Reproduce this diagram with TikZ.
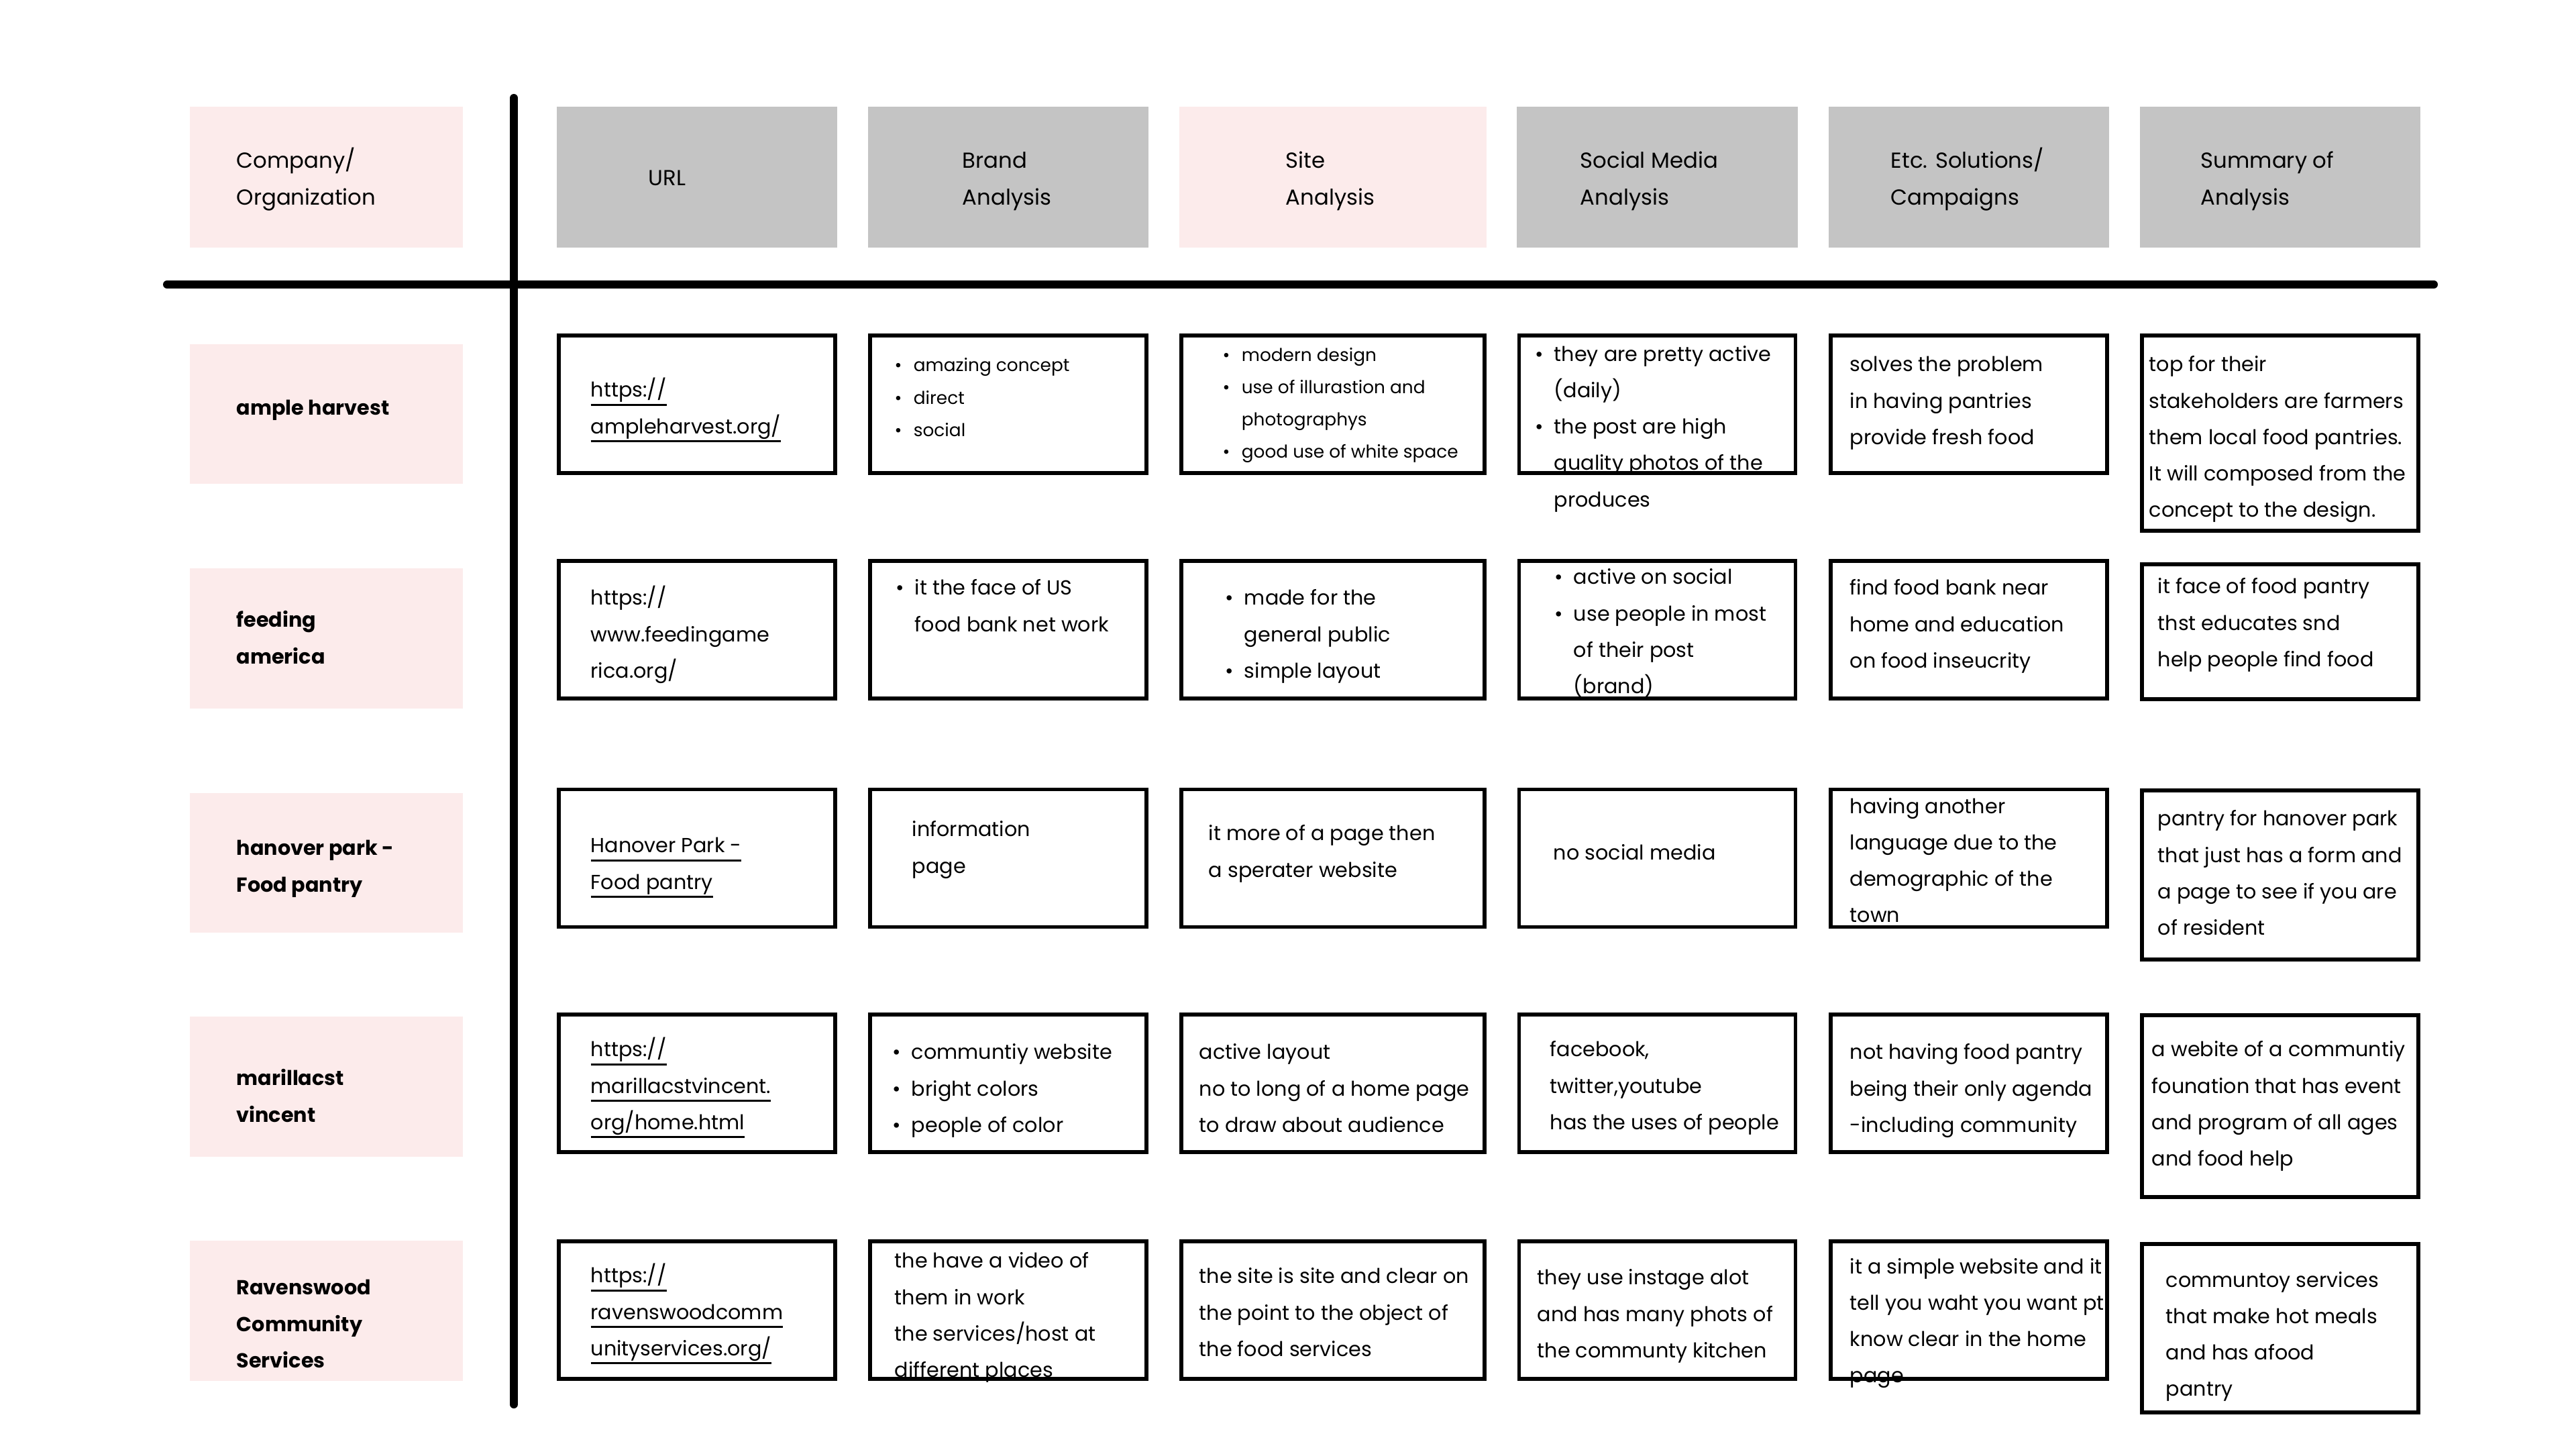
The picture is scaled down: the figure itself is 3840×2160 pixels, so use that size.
\documentclass[tikz,border=0pt]{standalone}
\usepackage{fontspec}
\setmainfont{Poppins}
\definecolor{pinkbg}{RGB}{252,235,235}
\definecolor{grayhead}{RGB}{196,196,196}
\newcommand{\lnk}[1]{\leavevmode\setbox0\hbox{#1}\rlap{\rule[-3.6pt]{\wd0}{0.7pt}}\box0}
\newcommand{\bul}{\makebox[8pt][l]{\textbullet}}
\newcommand{\ind}{\hspace*{8pt}}
\newcommand{\st}{\rule{0pt}{10pt}}
\begin{document}
\begin{tikzpicture}[x=0.01cm, y=-0.01cm]
	\tikzstyle{Head} = [rectangle, minimum width=4.18cm, minimum height=2.10cm, inner sep=0pt, fill=grayhead]
	\tikzstyle{Label} = [rectangle, minimum width=4.07cm, minimum height=2.08cm, inner sep=0pt, fill=pinkbg]
	\tikzstyle{Cell} = [rectangle, minimum width=4.12cm, minimum height=2.05cm, inner sep=0pt, draw=black, line width=1.6pt]
	\tikzstyle{Txt} = [anchor=north west, inner sep=0pt, align=left, font=\fontsize{8.6}{15.4}\selectfont]
	\tikzstyle{HeadTxt} = [Txt, font=\fontsize{9.2}{15.4}\selectfont]
	\tikzstyle{Small} = [Txt, font=\fontsize{7.5}{13.7}\selectfont]
	\tikzstyle{Bold} = [Txt, font=\fontsize{8.6}{15.4}\selectfont\bfseries]
	\tikzstyle{bar} = [line width=3.4pt, line cap=round, black]
	
	\useasboundingbox (0,0) rectangle (3840,2160);
	
	% header row
	\node (company) [Label, minimum height=2.10cm] at (486.5,264) {};
	\node (url) [Head] at (1039,264) {};
	\node (brand) [Head] at (1503,264) {};
	\node (site) [Head, minimum width=4.58cm, fill=pinkbg] at (1987,264) {};
	\node (social) [Head] at (2470.5,264) {};
	\node (etc) [Head] at (2935,264) {};
	\node (sum) [Head] at (3399,264) {};
	\node (companyt) [HeadTxt] at (352,215) {\st Company/\\Organization};
	\node (urlt) [HeadTxt] at (966,241) {\st URL};
	\node (brandt) [HeadTxt] at (1434,215) {\st Brand\\Analysis};
	\node (sitet) [HeadTxt] at (1916,215) {\st Site\\Analysis};
	\node (socialt) [HeadTxt] at (2355,215) {\st Social Media\\Analysis};
	\node (etct) [HeadTxt] at (2818,215) {\st Etc. Solutions/\\Campaigns};
	\node (sumt) [HeadTxt] at (3280,215) {\st Summary of\\Analysis};
	
	% dividing lines
	\draw [bar] (249,424) -- (3628,424);
	\draw [bar] (766,146) -- (766,2093);
	
	% company labels
	\node (l1) [Label] at (486.5,617) {};
	\node (l2) [Label] at (486.5,951.5) {};
	\node (l3) [Label] at (486.5,1286) {};
	\node (l4) [Label] at (486.5,1619.5) {};
	\node (l5) [Label] at (486.5,1953.5) {};
	\node (l1t) [Bold] at (352,583) {\st ample harvest};
	\node (l2t) [Bold] at (352,899) {\st feeding\\america};
	\node (l3t) [Bold] at (352,1239) {\st hanover park -\\Food pantry};
	\node (l4t) [Bold] at (352,1582) {\st marillacst\\vincent};
	\node (l5t) [Bold] at (352,1894) {\st Ravenswood\\Community\\Services};
	
	% row 1
	\node (url1) [Cell] at (1039,602.5) {};
	\node (brand1) [Cell] at (1503,602.5) {};
	\node (site1) [Cell, minimum width=4.52cm] at (1987,602.5) {};
	\node (social1) [Cell] at (2470.5,602.5) {};
	\node (etc1) [Cell] at (2935,602.5) {};
	\node (sum1) [Cell, minimum height=2.91cm] at (3399,645.5) {};
	\node (url1t) [Txt] at (880,556) {\st\lnk{https://}\\\lnk{ampleharvest.org/}};
	\node (brand1t) [Small] at (1333,518) {\st\bul amazing concept\\\bul direct\\\bul social};
	\node (site1t) [Small] at (1822,502.5) {\st\bul modern design\\\bul use of illurastion and\\\ind photographys\\\bul good use of white space};
	\node (social1t) [Txt] at (2288,502.5) {\st\bul they are pretty active\\\ind (daily)\\\bul the post are high\\\ind quality photos of the\\\ind produces};
	\node (etc1t) [Txt] at (2757,518) {\st solves the problem\\in having pantries\\provide fresh food};
	\node (sum1t) [Txt] at (3203,518) {\st top for their\\stakeholders are farmers\\them local food pantries.\\It will composed from the\\concept to the design.};
	
	% row 2
	\node (url2) [Cell] at (1039,938.5) {};
	\node (brand2) [Cell] at (1503,938.5) {};
	\node (site2) [Cell, minimum width=4.52cm] at (1987,938.5) {};
	\node (social2) [Cell] at (2470.5,938.5) {};
	\node (etc2) [Cell] at (2935,938.5) {};
	\node (sum2) [Cell, minimum height=2.01cm] at (3399,941.5) {};
	\node (url2t) [Txt] at (880,866) {\st https://\\www.feedingame\\rica.org/};
	\node (brand2t) [Txt] at (1335,851) {\st\bul it the face of US\\\ind food bank net work};
	\node (site2t) [Txt] at (1826,866) {\st\bul made for the\\\ind general public\\\bul simple layout};
	\node (social2t) [Txt] at (2317,835) {\st\bul active on social\\\bul use people in most\\\ind of their post\\\ind (brand)};
	\node (etc2t) [Txt] at (2757,851) {\st find food bank near\\home and education\\on food inseucrity};
	\node (sum2t) [Txt] at (3216,849) {\st it face of food pantry\\thst educates snd\\help people find food};
	
	% row 3
	\node (url3) [Cell] at (1039,1279) {};
	\node (brand3) [Cell] at (1503,1279) {};
	\node (site3) [Cell, minimum width=4.52cm] at (1987,1279) {};
	\node (social3) [Cell] at (2470.5,1279) {};
	\node (etc3) [Cell] at (2935,1279) {};
	\node (sum3) [Cell, minimum height=2.52cm] at (3399,1304) {};
	\node (url3t) [Txt] at (880,1235) {\st\lnk{Hanover Park -}\\\lnk{Food pantry}};
	\node (brand3t) [Txt] at (1359,1211) {\st information\\page};
	\node (site3t) [Txt] at (1801,1217) {\st it more of a page then\\a sperater website};
	\node (social3t) [Txt] at (2315,1246) {\st no social media};
	\node (etc3t) [Txt] at (2757,1176.5) {\st having another\\language due to the\\demographic of the\\town};
	\node (sum3t) [Txt] at (3216,1195) {\st pantry for hanover park\\that just has a form and\\a page to see if you are\\of resident};
	
	% row 4
	\node (url4) [Cell] at (1039,1614.5) {};
	\node (brand4) [Cell] at (1503,1614.5) {};
	\node (site4) [Cell, minimum width=4.52cm] at (1987,1614.5) {};
	\node (social4) [Cell] at (2470.5,1614.5) {};
	\node (etc4) [Cell] at (2935,1614.5) {};
	\node (sum4) [Cell, minimum height=2.71cm] at (3399,1648.5) {};
	\node (url4t) [Txt] at (880,1539) {\st\lnk{https://}\\\lnk{marillacstvincent.}\\\lnk{org/home.html}};
	\node (brand4t) [Txt] at (1330,1543) {\st\bul communtiy website\\\bul bright colors\\\bul people of color};
	\node (site4t) [Txt] at (1787,1543) {\st active layout\\no to long of a home page\\to draw about audience};
	\node (social4t) [Txt] at (2310,1539) {\st facebook,\\twitter,youtube\\has the uses of people};
	\node (etc4t) [Txt] at (2757,1543) {\st not having food pantry\\being their only agenda\\-including community};
	\node (sum4t) [Txt] at (3207,1539) {\st a webite of a communtiy\\founation that has event\\and program of all ages\\and food help};
	
	% row 5
	\node (url5) [Cell] at (1039,1952.5) {};
	\node (brand5) [Cell] at (1503,1952.5) {};
	\node (site5) [Cell, minimum width=4.52cm] at (1987,1952.5) {};
	\node (social5) [Cell] at (2470.5,1952.5) {};
	\node (etc5) [Cell] at (2935,1952.5) {};
	\node (sum5) [Cell, minimum height=2.51cm] at (3399,1979.5) {};
	\node (url5t) [Txt] at (880,1876) {\st\lnk{https://}\\\lnk{ravenswoodcomm}\\\lnk{unityservices.org/}};
	\node (brand5t) [Txt] at (1333,1854) {\st the have a video of\\them in work\\the services/host at\\different places};
	\node (site5t) [Txt] at (1787,1877) {\st the site is site and clear on\\the point to the object of\\the food services};
	\node (social5t) [Txt] at (2291,1879) {\st they use instage alot\\and has many phots of\\the communty kitchen};
	\node (etc5t) [Txt] at (2757,1862.5) {\st it a simple website and it\\tell you waht you want pt\\know clear in the home\\page};
	\node (sum5t) [Txt] at (3228,1882.6) {\st communtoy services\\that make hot meals\\and has afood\\pantry};
\end{tikzpicture}
\end{document}
